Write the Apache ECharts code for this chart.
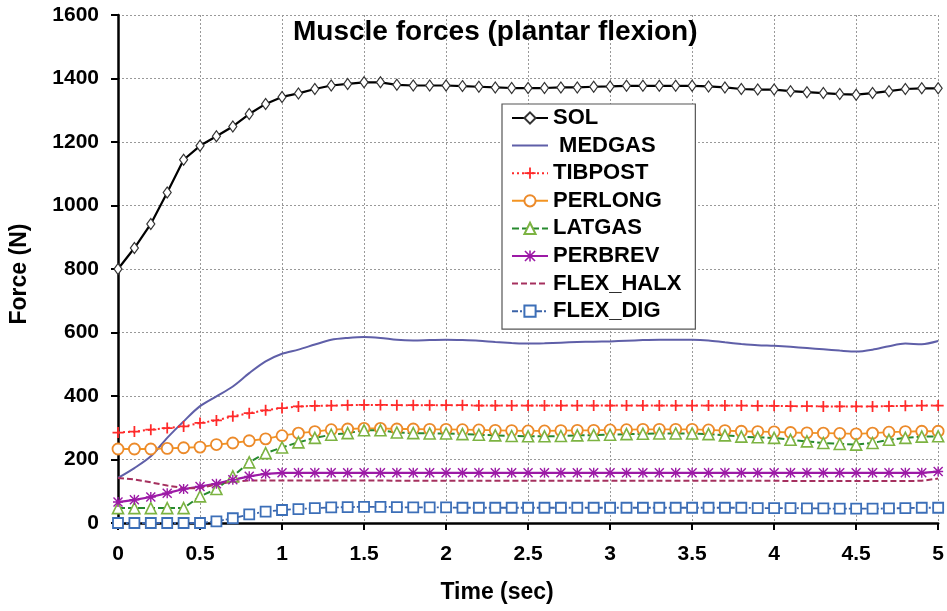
<!DOCTYPE html>
<html><head><meta charset="utf-8">
<script src="https://cdn.jsdelivr.net/npm/echarts@6/dist/echarts.min.js"></script>
<style>html,body{margin:0;padding:0;background:#fff}#c{width:947px;height:611px}</style>
</head><body><div id="c"></div>
<script>
var times = [0,0.1,0.2,0.3,0.4,0.5,0.6,0.7,0.8,0.9,1.0,1.1,1.2,1.3,1.4,1.5,1.6,1.7,1.8,1.9,2.0,2.1,2.2,2.3,2.4,2.5,2.6,2.7,2.8,2.9,3.0,3.1,3.2,3.3,3.4,3.5,3.6,3.7,3.8,3.9,4.0,4.1,4.2,4.3,4.4,4.5,4.6,4.7,4.8,4.9,5.0];
var SOL = [800,866,942,1041,1144,1188,1218,1249,1288,1320,1342,1353,1367,1378,1383,1388,1388,1380,1378,1378,1378,1376,1374,1372,1370,1370,1370,1372,1372,1374,1375,1377,1377,1377,1377,1377,1375,1372,1367,1365,1365,1360,1357,1354,1351,1349,1354,1360,1367,1369,1369];
var MEDGAS = [142,173,210,268,320,368,399,430,472,509,533,546,562,577,583,586,583,577,575,576,577,576,574,570,567,565,566,568,570,571,572,574,576,577,577,577,575,569,564,560,558,555,551,547,543,540,546,557,565,563,573];
var TIBPOST = [285,288,294,299,304,315,323,336,346,355,362,367,369,370,371,372,372,371,371,371,371,371,370,370,370,370,370,370,370,370,370,370,370,370,370,370,370,370,370,369,369,368,368,367,367,367,367,368,369,370,370];
var PERLONG = [233,233,233,235,237,239,247,252,259,265,275,283,288,294,296,298,298,296,296,295,295,294,293,292,291,290,290,291,292,292,293,294,295,295,295,295,293,291,289,288,287,285,284,283,282,281,283,286,288,289,289];
var LATGAS = [47,47,47,47,47,84,107,147,191,220,238,254,268,278,283,292,292,285,283,282,282,280,278,276,274,273,273,274,276,277,278,280,281,282,282,282,280,276,272,270,268,262,257,252,249,247,252,262,268,272,273];
var PERBREV = [66,73,82,94,107,115,124,136,147,155,158,158,158,158,158,158,158,158,158,158,158,158,158,158,158,158,158,158,158,158,158,158,158,158,158,158,158,158,158,158,158,158,158,158,158,158,158,158,158,158,162];
var FLEX_HALX = [142,137,128,118,110,109,122,130,134,134,134,134,134,134,134,134,134,133,133,133,133,133,133,133,133,133,133,133,133,133,133,133,133,133,133,133,133,133,133,133,133,132,132,132,132,132,132,132,132,133,140];
var FLEX_DIG = [0,0,0,0,0,0,5,15,27,36,41,44,47,49,50,51,51,50,49,49,49,48,48,48,48,48,48,48,48,48,48,48,48,48,48,48,48,48,48,47,47,47,46,46,45,45,45,46,47,48,48];
var seriesNames = ['SOL',' MEDGAS','TIBPOST','PERLONG','LATGAS','PERBREV','FLEX_HALX','FLEX_DIG'];
var lineOnly = [' MEDGAS','FLEX_HALX'];
var xTicks = [0,0.5,1,1.5,2,2.5,3,3.5,4,4.5,5];
var yTicks = [0,200,400,600,800,1000,1200,1400,1600];

function pairs(v){ return times.map(function(t,i){ return [t, v[i]]; }); }
var plusPath = 'path://M4.2,0h1.6v10h-1.6z M0,4.2h10v1.6h-10z';
var starPath = 'path://M4.3,0h1.4v10h-1.4z M0,4.3h10v1.4h-10z M1,0 L10,9 L9,10 L0,1z M9,0 L10,1 L1,10 L0,9z';
var F = 'Liberation Sans, Arial, sans-serif';

var legendData = seriesNames.map(function(n){
  return lineOnly.indexOf(n) >= 0 ? {name:n, itemStyle:{opacity:0}} : {name:n};
});

var chart = echarts.init(document.getElementById('c'), null, {renderer:'canvas'});
chart.setOption({
  animation:false,
  backgroundColor:'#fff',
  title:{text:'Muscle forces (plantar flexion)', left:288, top:13,
    textStyle:{fontFamily:F, fontWeight:'bold', fontSize:28, color:'#000'}},
  grid:{left:117, right:4, top:15, bottom:88},
  legend:{orient:'vertical', left:502, top:104, backgroundColor:'#fff',
    borderColor:'#555', borderWidth:1.2, padding:[3,14,7,9], itemGap:5.6,
    itemWidth:36, itemHeight:14,
    textStyle:{fontFamily:F, fontWeight:'bold', fontSize:22, color:'#000', lineHeight:22},
    data:legendData},
  xAxis:{type:'value', min:0, max:5, interval:0.5,
    name:'Time (sec)', nameLocation:'middle', nameGap:58,
    nameTextStyle:{fontFamily:F, fontWeight:'bold', fontSize:23, color:'#000', padding:[0,62,0,0]},
    axisLine:{onZero:false, lineStyle:{color:'#000', width:2.5}},
    axisTick:{show:true, inside:false, length:7, lineStyle:{color:'#000', width:2}},
    axisLabel:{margin:21, fontFamily:F, fontWeight:'bold', fontSize:21, color:'#000',
      formatter:function(v){ return xTicks.indexOf(v)>=0 ? String(v) : ''; }},
    splitLine:{show:true, lineStyle:{color:'#999', type:[2,2], width:1}}},
  yAxis:{type:'value', min:0, max:1600, interval:200,
    name:'Force (N)', nameLocation:'middle', nameGap:87, nameRotate:90,
    nameTextStyle:{fontFamily:F, fontWeight:'bold', fontSize:23, color:'#000', padding:[0,10,0,0]},
    axisLine:{show:true, lineStyle:{color:'#000', width:2.5}},
    axisTick:{show:true, inside:false, length:7, lineStyle:{color:'#000', width:2}},
    axisLabel:{margin:19, fontFamily:F, fontWeight:'bold', fontSize:21, color:'#000',
      formatter:function(v){ return yTicks.indexOf(v)>=0 ? String(v) : ''; }},
    splitLine:{show:true, lineStyle:{color:'#999', type:[2,2], width:1}}},
  series:[
    {name:'SOL', type:'line', data:pairs(SOL), z:10, symbol:'diamond', symbolSize:[8,11], showAllSymbol:true,
      lineStyle:{color:'#000', width:2.2}, itemStyle:{color:'#fff', borderColor:'#333', borderWidth:1.2}},
    {name:' MEDGAS', type:'line', data:pairs(MEDGAS), smooth:0.3, showSymbol:false, symbol:'circle',
      lineStyle:{color:'#5f5fa8', width:2}, itemStyle:{color:'#5f5fa8'}},
    {name:'TIBPOST', type:'line', data:pairs(TIBPOST), symbol:plusPath, symbolSize:11, showAllSymbol:true,
      lineStyle:{color:'#ff2a2a', width:2, type:[2,3]}, itemStyle:{color:'#ff2a2a'}},
    {name:'PERLONG', type:'line', data:pairs(PERLONG), symbol:'circle', symbolSize:11, showAllSymbol:true,
      lineStyle:{color:'#f39422', width:1.8}, itemStyle:{color:'#fff', borderColor:'#ec8a2a', borderWidth:1.8}},
    {name:'LATGAS', type:'line', data:pairs(LATGAS), symbol:'triangle', symbolSize:11, showAllSymbol:true,
      lineStyle:{color:'#278a2e', width:2, type:[7,3]}, itemStyle:{color:'#fff', borderColor:'#7cb342', borderWidth:1.6}},
    {name:'PERBREV', type:'line', data:pairs(PERBREV), symbol:starPath, symbolSize:10, showAllSymbol:true,
      lineStyle:{color:'#9c1aa6', width:2.2}, itemStyle:{color:'#9c1aa6'}},
    {name:'FLEX_HALX', type:'line', data:pairs(FLEX_HALX), showSymbol:false, symbol:'circle',
      lineStyle:{color:'#a5305e', width:2, type:[6,3]}, itemStyle:{color:'#a5305e'}},
    {name:'FLEX_DIG', type:'line', data:pairs(FLEX_DIG), symbol:'rect', symbolSize:10, showAllSymbol:true,
      lineStyle:{color:'#3b63a8', width:1.8, type:[6,2,2,2]}, itemStyle:{color:'#fff', borderColor:'#3c6fb8', borderWidth:1.8}}
  ]
});
</script>
</body></html>
